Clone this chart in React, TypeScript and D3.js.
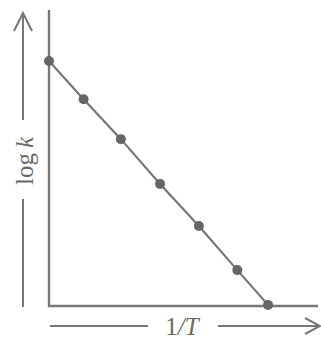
import { useRef, useEffect } from 'react'
import * as d3 from 'd3'

// 1/T (arbitrary units) and log k
const invT = [0, 0.9, 1.87, 2.89, 3.9, 4.9, 5.7]
const logK = [6.62, 5.59, 4.51, 3.3, 2.16, 0.97, 0.03]
const xLabel = '1/T'
const yLabel = 'log k'

function App() {
  const svgRef = useRef<SVGSVGElement>(null)

  useEffect(() => {
    const w = 321
    const h = 340
    const svg = d3.select(svgRef.current)
    svg.selectAll('*').remove()
    svg.attr('width', w).attr('height', h)

    const ink = '#777'
    const x = d3.scaleLinear().domain([0, 7]).range([49, 318])
    const y = d3.scaleLinear().domain([0, 8]).range([306, 10])

    // axes (plain lines, no ticks)
    svg.append('line')
      .attr('x1', x(0)).attr('x2', x(0))
      .attr('y1', y(8)).attr('y2', y(0) + 1)
      .attr('stroke', ink).attr('stroke-width', 2.4)
    svg.append('line')
      .attr('x1', x(0) - 1).attr('x2', x(7))
      .attr('y1', y(0)).attr('y2', y(0))
      .attr('stroke', ink).attr('stroke-width', 2.4)

    // data line + dots
    const pts = invT.map((v, i) => [v, logK[i]] as [number, number])
    const line = d3.line<[number, number]>()
      .x(d => x(d[0]))
      .y(d => y(d[1]))
    svg.append('path')
      .datum(pts)
      .attr('d', line)
      .attr('fill', 'none')
      .attr('stroke', ink)
      .attr('stroke-width', 2.2)
    svg.selectAll('.dot')
      .data(pts)
      .join('circle')
      .attr('class', 'dot')
      .attr('cx', d => x(d[0]))
      .attr('cy', d => y(d[1]))
      .attr('r', 5)
      .attr('fill', '#666')

    // y label with up arrow
    const ax = 23
    svg.append('line').attr('x1', ax).attr('x2', ax).attr('y1', 120).attr('y2', 13)
      .attr('stroke', ink).attr('stroke-width', 2)
    svg.append('path').attr('d', `M${ax - 9},${31} L${ax},${13} L${ax + 9},${31}`)
      .attr('fill', 'none').attr('stroke', ink).attr('stroke-width', 2)
    svg.append('line').attr('x1', ax).attr('x2', ax).attr('y1', 199).attr('y2', 307)
      .attr('stroke', ink).attr('stroke-width', 2)
    const yt = svg.append('text')
      .attr('transform', `translate(${ax + 1},161) rotate(-90)`)
      .attr('text-anchor', 'middle')
      .attr('dominant-baseline', 'central')
      .attr('font-family', 'Liberation Serif, serif')
      .attr('font-size', 25)
      .attr('fill', '#6a6a6a')
    const [lg, kk] = yLabel.split(' ')
    yt.append('tspan').text(lg + '\u2009')
    yt.append('tspan').attr('font-style', 'italic').text(kk)

    // x label with right arrow
    const ay = 326
    svg.append('line').attr('x1', 50).attr('x2', 148).attr('y1', ay).attr('y2', ay)
      .attr('stroke', ink).attr('stroke-width', 2)
    svg.append('line').attr('x1', 218).attr('x2', 320).attr('y1', ay).attr('y2', ay)
      .attr('stroke', ink).attr('stroke-width', 2)
    svg.append('path').attr('d', `M${305},${ay - 8} L${320},${ay} L${305},${ay + 8}`)
      .attr('fill', 'none').attr('stroke', ink).attr('stroke-width', 2)
    const xt = svg.append('text')
      .attr('x', 182).attr('y', ay)
      .attr('text-anchor', 'middle')
      .attr('dominant-baseline', 'central')
      .attr('font-family', 'Liberation Serif, serif')
      .attr('font-size', 25)
      .attr('fill', '#6a6a6a')
    const [one, tt] = xLabel.split('/')
    xt.append('tspan').text(one)
    xt.append('tspan').attr('font-style', 'italic').text('/' + tt)
  }, [])

  return (
    <div style={{ position: 'absolute', left: 0, top: 0, background: '#fff' }}>
      <svg ref={svgRef} style={{ display: 'block' }}></svg>
    </div>
  )
}

export default App
